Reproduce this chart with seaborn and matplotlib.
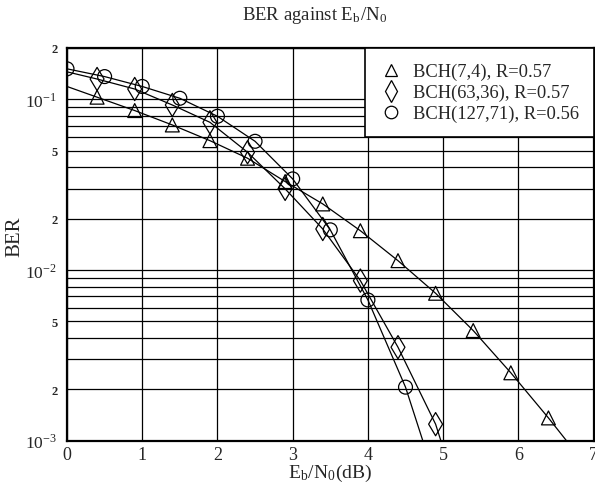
import numpy as np
import pandas as pd
import matplotlib
matplotlib.use('Agg')
import matplotlib.pyplot as plt
from matplotlib.lines import Line2D
from matplotlib.ticker import FixedLocator, NullLocator
import seaborn as sns

# measured points (markers)
tri_x = [0.4, 0.9, 1.4, 1.9, 2.4, 2.9, 3.4, 3.9, 4.4, 4.9, 5.4, 5.9, 6.4]
tri_y = [0.103, 0.086, 0.0708, 0.0573, 0.0452, 0.033, 0.0244, 0.0170,
         0.01135, 0.00731, 0.00442, 0.00250, 0.00136]
dia_x = [0.4, 0.9, 1.4, 1.9, 2.4, 2.9, 3.4, 3.9, 4.4, 4.9]
dia_y = [0.1316, 0.115, 0.0927, 0.0734, 0.049, 0.0299, 0.0174, 0.00867,
         0.00353, 0.00125]
cir_x = [0.0, 0.5, 1.0, 1.5, 2.0, 2.5, 3.0, 3.5, 4.0, 4.5]
cir_y = [0.151, 0.136, 0.119, 0.1015, 0.0796, 0.0568, 0.0342, 0.0172,
         0.00668, 0.00206]

# fitted curves (drawn beyond the markers)
tri_cx = [0.0] + tri_x + [6.64]
tri_cy = [0.119] + tri_y + [0.001]
dia_cx = [0.0] + dia_x + [4.97]
dia_cy = [0.145] + dia_y + [0.001]
cir_cx = cir_x + [4.73]
cir_cy = cir_y + [0.001]

labels = ['BCH(7,4), R=0.57', 'BCH(63,36), R=0.57', 'BCH(127,71), R=0.56']
markers = ['^', 'd', 'o']

sns.set_style('white')
plt.rcParams['font.family'] = ['Liberation Serif', 'DejaVu Serif']
plt.rcParams['mathtext.fontset'] = 'stix'

fig = plt.figure(figsize=(5.95, 4.89), dpi=100)
ax = fig.add_axes([0.1126, 0.0967, 0.885, 0.8031])
ax.set_yscale('log')
ax.set_xlim(0, 7)
ax.set_ylim(1e-3, 2e-1)

curves = [(tri_cx, tri_cy), (dia_cx, dia_cy), (cir_cx, cir_cy)]
points = [(tri_x, tri_y), (dia_x, dia_y), (cir_x, cir_y)]
for (cx, cy), (px, py), m in zip(curves, points, markers):
    sns.lineplot(x=cx, y=cy, ax=ax, color='black', lw=0.9, zorder=3)
    sns.scatterplot(x=px, y=py, ax=ax, marker=m, s=100 if m != 'd' else 140,
                    facecolor='none', edgecolor='black', linewidth=0.9,
                    zorder=4)

# grid
ax.xaxis.set_major_locator(FixedLocator(range(8)))
ax.xaxis.set_minor_locator(NullLocator())
ax.yaxis.set_major_locator(FixedLocator([1e-3, 1e-2, 1e-1]))
minor = [k * 10.0 ** e for e in (-3, -2, -1) for k in range(2, 10)]
minor = [v for v in minor if v <= 0.2 + 1e-9]
ax.yaxis.set_minor_locator(FixedLocator(minor))
ax.set_yticklabels([r'10$^{\mathregular{-3}}$', r'10$^{\mathregular{-2}}$',
                    r'10$^{\mathregular{-1}}$'], fontsize=12.5)
ax.set_yticklabels([('2' if abs(v / 10 ** np.floor(np.log10(v)) - 2) < 1e-6
                     else '5' if abs(v / 10 ** np.floor(np.log10(v)) - 5) < 1e-6
                     else '') for v in minor], minor=True,
                   fontsize=9, fontweight='bold')
ax.set_xticklabels([str(i) for i in range(8)], fontsize=13)
ax.grid(True, which='both', axis='y', color='black', lw=0.9)
ax.grid(True, which='major', axis='x', color='black', lw=0.9)
ax.tick_params(which='both', length=0, pad=7)
ax.tick_params(axis='x', pad=4)
for s in ax.spines.values():
    s.set_color('black')
    s.set_linewidth(1.6)

ax.set_xlabel(r'E$_{\mathregular{b}}$/N$_{\mathregular{0}}$(dB)', fontsize=14,
              labelpad=-1)
ax.set_ylabel('BER', fontsize=15)
ax.yaxis.set_label_coords(-0.08, 0.521)
fig.text(0.528, 0.969, r'BER against E$_{\mathregular{b}}$/N$_{\mathregular{0}}$',
         ha='center', va='center', fontsize=13.5)

handles = [Line2D([], [], ls='none', marker=m, mfc='none', mec='black',
                  ms=9 if m != 'd' else 11, mew=0.9) for m in markers]
leg = ax.legend(handles, labels, loc='upper right', fontsize=13.3,
                frameon=True, fancybox=False, framealpha=1, borderaxespad=0,
                borderpad=0.8, labelspacing=0.2, handletextpad=0.6,
                handlelength=1.2)
leg.get_frame().set_edgecolor('black')
leg.get_frame().set_linewidth(1.2)
leg.set_zorder(10)

fig.savefig('out.png', dpi=100)
